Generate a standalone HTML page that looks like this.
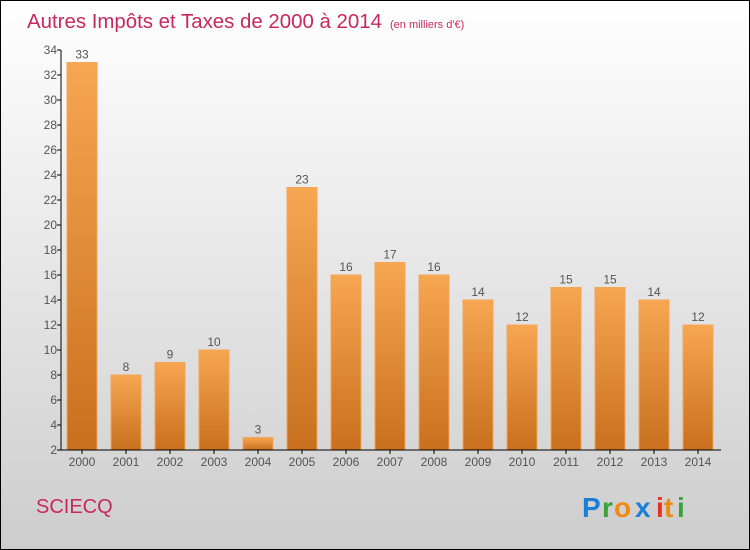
<!DOCTYPE html>
<html><head><meta charset="utf-8"><style>
html,body{margin:0;padding:0;}
svg{display:block;font-family:"Liberation Sans",sans-serif;}
</style></head><body>
<svg id="chart" width="750" height="550" viewBox="0 0 750 550" xmlns="http://www.w3.org/2000/svg">
<defs>
<linearGradient id="bg" x1="0" y1="0" x2="0" y2="1"><stop offset="0" stop-color="#ffffff"/><stop offset="1" stop-color="#cdcdcd"/></linearGradient>
<linearGradient id="bar" x1="0" y1="0" x2="0" y2="1"><stop offset="0" stop-color="#f7a651"/><stop offset="1" stop-color="#c8701d"/></linearGradient>
</defs>
<rect x="0.5" y="0.5" width="749" height="549" fill="url(#bg)" stroke="#000"/>
<text x="27" y="28" font-size="20" fill="#c7285e" textLength="355" lengthAdjust="spacingAndGlyphs">Autres Impôts et Taxes de 2000 à 2014</text>
<text x="390" y="28" font-size="11" fill="#c7285e">(en milliers d'€)</text>
<g id="bars"></g>
<g id="axes"></g>
<text x="36" y="513" font-size="20" fill="#c7285e">SCIECQ</text>
<g font-size="28" font-weight="bold">
<text x="582" y="517" fill="#1a7fd6">P</text><text x="602" y="517" fill="#3aa23a">r</text><text x="614" y="517" fill="#f08a10">o</text><text x="635" y="517" fill="#1a7fd6">x</text><text x="656" y="517" fill="#e83020">i</text><text x="664" y="517" fill="#f08a10">t</text><text x="677" y="517" fill="#3aa23a">i</text>
</g>
</svg>
<script>
const categories=["2000","2001","2002","2003","2004","2005","2006","2007","2008","2009","2010","2011","2012","2013","2014"];
const values=[33,8,9,10,3,23,16,17,16,14,12,15,15,14,12];
const yTicks=[2,4,6,8,10,12,14,16,18,20,22,24,26,28,30,32,34];
const NS="http://www.w3.org/2000/svg";
const x0=61,x1=721,yMin=2,yMax=34,yTop=50,yBot=450,step=44,bw=30;
function yS(v){return yBot-(v-yMin)/(yMax-yMin)*(yBot-yTop);}
function xS(i){return 82+i*step;}
function mk(t,a,p){const e=document.createElementNS(NS,t);for(const k in a)e.setAttribute(k,a[k]);p.appendChild(e);return e;}
const gb=document.getElementById('bars'),ga=document.getElementById('axes');
values.forEach((v,i)=>{
 const r=mk('rect',{x:xS(i)-bw/2,y:yS(v),width:bw,height:yBot-yS(v),fill:'url(#bar)',stroke:'#f4a55a','stroke-width':1},gb);
 
 
 const t=mk('text',{x:xS(i),y:yS(v)-4,'text-anchor':'middle','font-size':12,fill:'#555'},gb);
 t.textContent=v;
 
 
 const c=mk('text',{x:xS(i),y:466,'text-anchor':'middle','font-size':12,fill:'#555'},ga);
 c.textContent=categories[i];
 
 
 mk('line',{x1:xS(i),x2:xS(i),y1:yBot,y2:yBot+4,stroke:'#000'},ga);
});
yTicks.forEach(v=>{
 mk('line',{x1:x0-4,x2:x0,y1:yS(v),y2:yS(v),stroke:'#000'},ga);
 const t=mk('text',{x:x0-4,y:yS(v)+4,'text-anchor':'end','font-size':12,fill:'#555'},ga);
 t.textContent=v;
 
 
});
const ya=mk('line',{x1:x0,x2:x0,y1:yTop,y2:yBot,stroke:'#000'},ga);


const xa=mk('line',{x1:x0,x2:x1,y1:yBot,y2:yBot,stroke:'#000'},ga);


</script>
</body></html>
